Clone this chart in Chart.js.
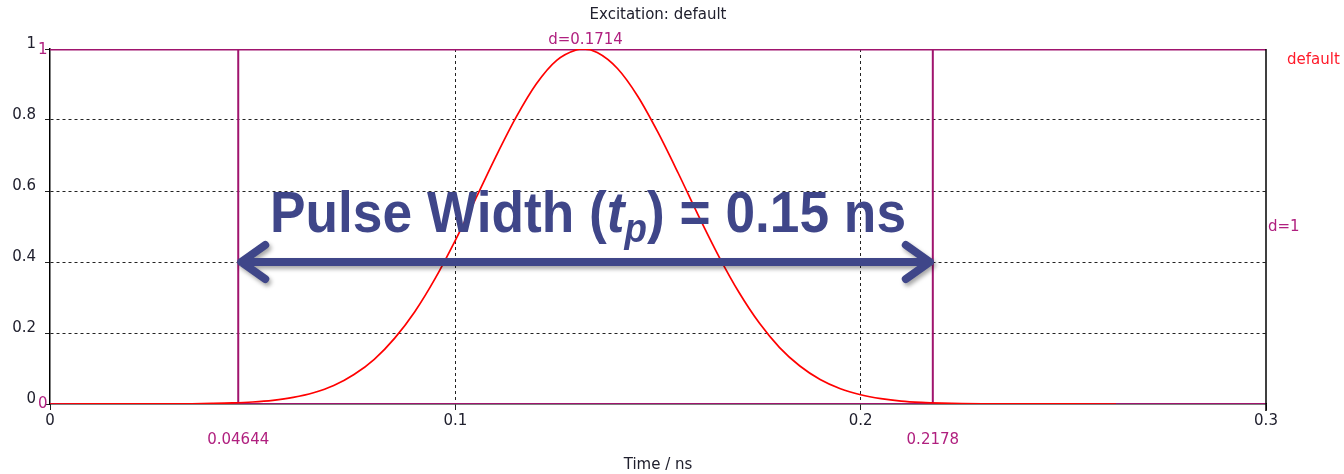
<!DOCTYPE html>
<html>
<head>
<meta charset="utf-8">
<script src="https://cdn.jsdelivr.net/npm/chart.js@4.4.1/dist/chart.umd.min.js"></script>
<style>
  html, body { margin: 0; padding: 0; background: #fff; }
  #wrap { width: 1344px; height: 474px; }
</style>
</head>
<body>
<div id="wrap"><canvas id="excChart"></canvas></div>
<script>
// excitation signal (time in ns, amplitude normalised)
const timeNs = [0, 0.035, 0.04, 0.045, 0.05, 0.055, 0.06, 0.065, 0.07, 0.075, 0.08, 0.085, 0.09, 0.095,
  0.1, 0.105, 0.11, 0.115, 0.12, 0.125, 0.13, 0.1315, 0.135, 0.14, 0.145, 0.15, 0.155, 0.16, 0.165,
  0.17, 0.175, 0.18, 0.185, 0.19, 0.195, 0.2, 0.205, 0.21, 0.215, 0.22, 0.225, 0.23, 0.263];
const excitation = [0, 0.0007, 0.0015, 0.0029, 0.0056, 0.0104, 0.0185, 0.0316, 0.052, 0.083, 0.126, 0.185, 0.26, 0.353,
  0.461, 0.578, 0.697, 0.808, 0.902, 0.968, 0.998, 1.0, 0.99, 0.945, 0.867, 0.765, 0.65, 0.53, 0.416,
  0.314, 0.228, 0.159, 0.107, 0.069, 0.043, 0.026, 0.015, 0.008, 0.0043, 0.0022, 0.0011, 0.0005, 0];

// markers
const markerTimes = [0.04644, 0.2178];
const markerLabels = ['0.04644', '0.2178'];
const markerWidthLabel = 'd=0.1714';
const arrowLevel = 0.4;

const xRange = [0, 0.3];
const yRange = [0, 1];

const inkCol = '#20202e';
const purple = '#a0146e';
const pink = '#b0207f';
const uiFont = '"DejaVu Sans", Verdana, sans-serif';

const fmt = v => String(+v.toFixed(3));

const annot = {
  id: 'annot',
  afterDraw(chart) {
    const ctx = chart.ctx;
    const xs = chart.scales.x, ys = chart.scales.y;
    const area = chart.chartArea;
    const mid = (area.left + area.right) / 2;
    ctx.save();

    // right border + tick
    ctx.strokeStyle = '#000';
    ctx.lineWidth = 1.5;
    ctx.beginPath();
    ctx.moveTo(xs.getPixelForValue(xRange[1]), ys.getPixelForValue(1));
    ctx.lineTo(xs.getPixelForValue(xRange[1]), ys.getPixelForValue(0) + 7);
    ctx.stroke();

    // title
    ctx.font = '15px ' + uiFont;
    ctx.fillStyle = inkCol;
    ctx.textAlign = 'center';
    ctx.textBaseline = 'middle';
    ctx.fillText('Excitation: default', mid, 15);

    // marker labels
    ctx.fillStyle = pink;
    markerTimes.forEach((t, i) => {
      ctx.fillText(markerLabels[i], xs.getPixelForValue(t), 440);
    });
    const mx = (xs.getPixelForValue(markerTimes[0]) + xs.getPixelForValue(markerTimes[1])) / 2;
    ctx.fillText(markerWidthLabel, mx, ys.getPixelForValue(1) - 9);

    ctx.textAlign = 'left';
    ctx.fillText('d=1', area.right + 2, 227);
    ctx.fillText('1', area.left - 12, ys.getPixelForValue(1) + 1);
    ctx.fillText('0', area.left - 12, ys.getPixelForValue(0));
    ctx.fillStyle = '#ff1a2a';
    ctx.fillText('default', area.right + 21, 60);

    // double arrow
    const x1 = xs.getPixelForValue(markerTimes[0]) + 3;
    const x2 = xs.getPixelForValue(markerTimes[1]) - 3;
    const ay = ys.getPixelForValue(arrowLevel);
    const arrowCol = '#3f4689';
    ctx.shadowColor = 'rgba(0,0,0,0.35)';
    ctx.shadowOffsetX = 2;
    ctx.shadowOffsetY = 3;
    ctx.shadowBlur = 4;
    ctx.strokeStyle = arrowCol;
    ctx.lineWidth = 8;
    ctx.lineCap = 'round';
    ctx.lineJoin = 'round';
    ctx.beginPath();
    ctx.moveTo(x1, ay); ctx.lineTo(x2, ay);
    ctx.moveTo(x1 + 24, ay - 17); ctx.lineTo(x1, ay); ctx.lineTo(x1 + 24, ay + 17);
    ctx.moveTo(x2 - 24, ay - 17); ctx.lineTo(x2, ay); ctx.lineTo(x2 - 24, ay + 17);
    ctx.stroke();
    ctx.shadowColor = 'transparent';

    // big label
    const big = 'bold 58px "Liberation Sans", Arial, sans-serif';
    const bigIt = 'italic bold 58px "Liberation Sans", Arial, sans-serif';
    const subIt = 'italic bold 40px "Liberation Sans", Arial, sans-serif';
    const parts = [
      { s: 'Pulse Width (', f: big, dy: 0 },
      { s: 't', f: bigIt, dy: 0 },
      { s: 'p', f: subIt, dy: 10 },
      { s: ') = 0.15 ns', f: big, dy: 0 }
    ];
    let w = 0;
    parts.forEach(p => { ctx.font = p.f; p.w = ctx.measureText(p.s).width; w += p.w; });
    const targetW = 636, left = 270, base = 232;
    const sx = targetW / w;
    ctx.translate(left, base);
    ctx.scale(sx, 1);
    ctx.fillStyle = arrowCol;
    ctx.textAlign = 'left';
    ctx.textBaseline = 'alphabetic';
    let cx = 0;
    parts.forEach(p => { ctx.font = p.f; ctx.fillText(p.s, cx, p.dy); cx += p.w; });
    ctx.restore();
  }
};

const ctx = document.getElementById('excChart').getContext('2d');
const excChart = new Chart(ctx, {
  type: 'scatter',
  data: {
    datasets: [
      {
        label: 'default',
        data: timeNs.map((t, i) => ({ x: t, y: excitation[i] })),
        showLine: true,
        borderColor: '#ff0000',
        borderWidth: 1.7,
        pointRadius: 0,
        cubicInterpolationMode: 'monotone',
        order: 0
      },
      {
        label: 'd=1',
        data: [{ x: xRange[0], y: 1 }, { x: xRange[1], y: 1 }],
        showLine: true, borderColor: purple, borderWidth: 3, pointRadius: 0, order: 1
      },
      {
        label: 'base',
        data: [{ x: xRange[0], y: 0 }, { x: xRange[1], y: 0 }],
        showLine: true, borderColor: purple, borderWidth: 2, pointRadius: 0, order: 2
      },
      {
        label: 'm1',
        data: [{ x: markerTimes[0], y: 0 }, { x: markerTimes[0], y: 1 }],
        showLine: true, borderColor: purple, borderWidth: 2, pointRadius: 0, order: 3
      },
      {
        label: 'm2',
        data: [{ x: markerTimes[1], y: 0 }, { x: markerTimes[1], y: 1 }],
        showLine: true, borderColor: purple, borderWidth: 2, pointRadius: 0, order: 3
      }
    ]
  },
  options: {
    responsive: true,
    maintainAspectRatio: false,
    animation: false,
    layout: { padding: { top: 49, right: 78, left: 0, bottom: 0 } },
    plugins: {
      legend: { display: false },
      title: { display: false },
      tooltip: { enabled: false }
    },
    scales: {
      x: {
        type: 'linear',
        min: xRange[0], max: xRange[1],
        afterFit: s => { s.height = 70; },
        ticks: { stepSize: 0.1, color: inkCol, font: { family: uiFont, size: 15 }, padding: 2, maxRotation: 0, callback: fmt },
        grid: {
          color: c => (c.tick && (c.tick.value === 0 || c.tick.value > 0.29)) ? 'rgba(0,0,0,0)' : '#222',
          tickColor: '#222', tickLength: 6, lineWidth: 1
        },
        border: { display: true, color: '#000', width: 1.5, dash: [3, 3] },
        title: { display: true, text: 'Time / ns', color: inkCol, font: { family: uiFont, size: 15 }, padding: { top: 3, bottom: 0 } }
      },
      y: {
        min: yRange[0], max: yRange[1],
        afterFit: s => { s.width = 50; },
        ticks: { stepSize: 0.2, color: inkCol, font: { family: uiFont, size: 15 }, padding: 9, labelOffset: -5, callback: fmt },
        grid: {
          color: c => (c.tick && (c.tick.value === 0 || c.tick.value === 1)) ? 'rgba(0,0,0,0)' : '#222',
          tickColor: '#222', tickLength: 5, lineWidth: 1
        },
        border: { display: true, color: '#000', width: 1.5, dash: [3, 3] }
      }
    }
  },
  plugins: [annot]
});
</script>
</body>
</html>
